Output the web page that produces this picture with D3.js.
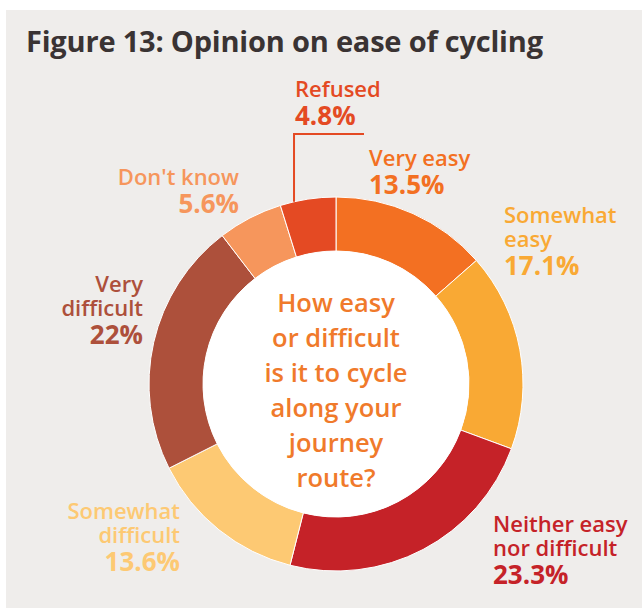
<!DOCTYPE html>
<html>
<head>
<meta charset="utf-8">
<script src="https://cdn.jsdelivr.net/npm/d3@7"></script>
<style>
  html, body { margin: 0; padding: 0; background: #ffffff; }
  svg { display: block; }
</style>
</head>
<body>
<script>
// chart data
var categories = ["Very easy", "Somewhat easy", "Neither easy nor difficult", "Somewhat difficult", "Very difficult", "Don't know", "Refused"];
var labelLines = [["Very easy"], ["Somewhat", "easy"], ["Neither easy", "nor difficult"], ["Somewhat", "difficult"], ["Very", "difficult"], ["Don't know"], ["Refused"]];
var values = [13.5, 17.1, 23.3, 13.6, 22, 5.6, 4.8];
var valueLabels = ["13.5%", "17.1%", "23.3%", "13.6%", "22%", "5.6%", "4.8%"];
var colors = ["#f37022", "#f9a934", "#c52228", "#fdc973", "#ad503b", "#f6965c", "#e44a23"];
var centreText = ["How easy", "or difficult", "is it to cycle", "along your", "journey", "route?"];

var width = 642;
var height = 608;
var cx = 336, cy = 384;
var outerR = 187, innerR = 133;
var font = "'Open Sans', 'Noto Sans', sans-serif";

// where each label block sits (first line baseline)
var labelPos = [
  {x: 369, y: 166, anchor: "start"},
  {x: 504, y: 223, anchor: "start"},
  {x: 493, y: 532, anchor: "start"},
  {x: 180, y: 519, anchor: "end"},
  {x: 143, y: 292, anchor: "end"},
  {x: 239, y: 185, anchor: "end"},
  {x: 295, y: 97, anchor: "start"}
];

var svg = d3.select("body")
            .append("svg")
            .attr("width", width)
            .attr("height", height);

svg.append("rect")
    .attr("x", 6)
    .attr("y", 10)
    .attr("width", width - 6)
    .attr("height", height - 10)
    .attr("fill", "#efedeb");

svg.append("text")
    .text("Figure 13: Opinion on ease of cycling")
    .attr("x", 26)
    .attr("y", 52)
    .attr("fill", "#3a3333")
    .style("font-family", font)
    .style("font-size", "29px")
    .style("font-weight", "bold")
    .style("letter-spacing", "-0.2px");

var pie = d3.pie().sort(null).value(function(d) { return d; });
var arc = d3.arc().innerRadius(innerR).outerRadius(outerR);
var arcs = pie(values);

var g = svg.append("g").attr("transform", "translate(" + cx + "," + cy + ")");

g.selectAll("path")
    .data(arcs)
    .enter()
    .append("path")
    .attr("d", arc)
    .attr("fill", function(d, i) { return colors[i]; })
    .attr("stroke", "#ffffff")
    .attr("stroke-width", 1);

g.append("circle")
    .attr("r", innerR)
    .attr("fill", "#ffffff");

// question in the middle
g.selectAll("text.centre")
    .data(centreText)
    .enter()
    .append("text")
    .attr("class", "centre")
    .text(function(d) { return d; })
    .attr("x", 0)
    .attr("y", function(d, i) { return -72 + i * 35; })
    .attr("text-anchor", "middle")
    .attr("fill", "#f07a2b")
    .style("font-family", font)
    .style("font-size", "25.5px")
    .style("font-weight", 600);

// slice labels
categories.forEach(function(c, i) {
  var p = labelPos[i];
  var lab = svg.append("g").attr("class", "label");
  labelLines[i].forEach(function(line, j) {
    lab.append("text")
        .text(line)
        .attr("x", p.x)
        .attr("y", p.y + j * 24)
        .attr("text-anchor", p.anchor)
        .attr("fill", colors[i])
        .style("font-family", font)
        .style("font-size", "22px")
        .style("font-weight", 600);
  });
  lab.append("text")
      .text(valueLabels[i])
      .attr("x", p.x)
      .attr("y", p.y + (labelLines[i].length - 1) * 24 + 28)
      .attr("text-anchor", p.anchor)
      .attr("fill", colors[i])
      .style("font-family", font)
      .style("font-size", "26px")
      .style("font-weight", "bold");
});

// leader line for the small "Refused" slice
var refused = arcs[6];
var refAngle = refused.startAngle + 0.25 * (refused.endAngle - refused.startAngle);
var lx = cx + outerR * Math.sin(refAngle);
var ly = cy - outerR * Math.cos(refAngle);
svg.append("path")
    .attr("d", "M" + lx + "," + ly + "V" + 134 + "H" + 364)
    .attr("fill", "none")
    .attr("stroke", colors[6])
    .attr("stroke-width", 2);
</script>
</body>
</html>
